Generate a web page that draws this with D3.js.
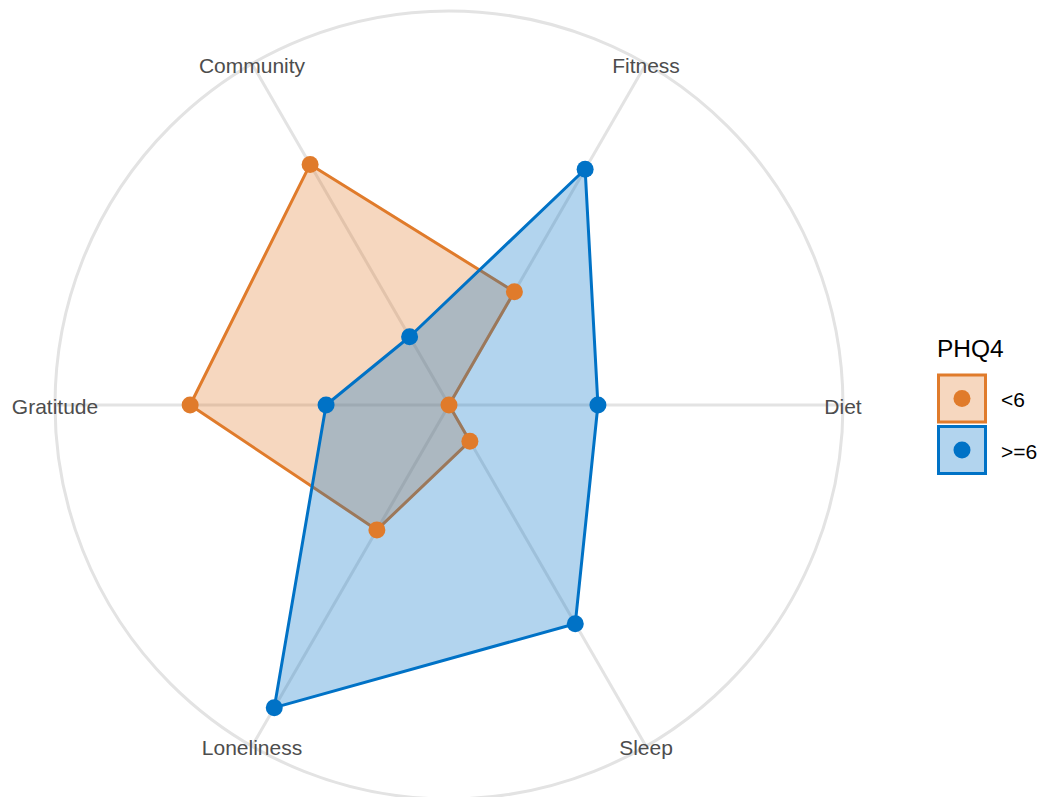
<!DOCTYPE html>
<html>
<head>
<meta charset="utf-8">
<script src="https://cdn.jsdelivr.net/npm/d3@7"></script>
<style>
  html, body { margin: 0; padding: 0; background: #fff; }
  svg { display: block; }
</style>
</head>
<body>
<svg id="chart" width="1040" height="797"></svg>
<script>
const categories = ["Diet", "Fitness", "Community", "Gratitude", "Loneliness", "Sleep"];
const seriesNames = ["<6", ">=6"];
const valuesLow = [0.000, 0.332, 0.705, 0.657, 0.366, 0.106];   // PHQ4 <6
const valuesHigh = [0.378, 0.691, 0.200, 0.312, 0.887, 0.641];  // PHQ4 >=6
const legendTitle = "PHQ4";
const colors = ["#E07B2B", "#0072C6"];

const series = [
  { name: seriesNames[0], values: valuesLow, color: colors[0] },
  { name: seriesNames[1], values: valuesHigh, color: colors[1] }
];

const svg = d3.select("#chart");
const cx = 449, cy = 405, R = 394;

const rScale = d3.scaleLinear().domain([0, 1]).range([0, R]);
const angle = d3.scaleLinear().domain([0, categories.length]).range([Math.PI / 2, Math.PI / 2 - 2 * Math.PI]);

const g = svg.append("g").attr("transform", `translate(${cx},${cy})`);

const gridColor = "#E3E3E3";
g.append("circle").attr("r", rScale(1)).attr("fill", "none")
  .attr("stroke", gridColor).attr("stroke-width", 3);

categories.forEach((c, i) => {
  const a = angle(i);
  g.append("line")
    .attr("x1", 0).attr("y1", 0)
    .attr("x2", rScale(1) * Math.sin(a))
    .attr("y2", -rScale(1) * Math.cos(a))
    .attr("stroke", gridColor).attr("stroke-width", 3);
});

const radial = d3.lineRadial()
  .angle((d, i) => angle(i))
  .radius(d => rScale(d))
  .curve(d3.curveLinearClosed);

series.forEach(s => {
  g.append("path")
    .attr("d", radial(s.values))
    .attr("fill", s.color).attr("fill-opacity", 0.3)
    .attr("stroke", s.color).attr("stroke-width", 3)
    .attr("stroke-linejoin", "round");
});

series.forEach(s => {
  g.selectAll(null).data(s.values).enter().append("circle")
    .attr("cx", (d, i) => rScale(d) * Math.sin(angle(i)))
    .attr("cy", (d, i) => -rScale(d) * Math.cos(angle(i)))
    .attr("r", 8.5)
    .attr("fill", s.color);
});

categories.forEach((c, i) => {
  const a = angle(i);
  g.append("text")
    .attr("x", rScale(1) * Math.sin(a))
    .attr("y", -rScale(1) * Math.cos(a) + 1.5)
    .attr("text-anchor", "middle")
    .attr("dy", "0.36em")
    .attr("font-family", "Liberation Sans, Arial, sans-serif")
    .attr("font-size", 21)
    .attr("fill", "#4D4D4D")
    .text(c);
});

const lg = svg.append("g").attr("transform", "translate(937,0)");
lg.append("text").attr("x", 0).attr("y", 357)
  .attr("font-family", "Liberation Sans, Arial, sans-serif")
  .attr("font-size", 24.5).attr("fill", "#000").text(legendTitle);

series.forEach((s, i) => {
  const y0 = 375 + i * 51.5;
  lg.append("rect").attr("x", 1.5).attr("y", y0).attr("width", 47).attr("height", 47)
    .attr("fill", s.color).attr("fill-opacity", 0.3)
    .attr("stroke", s.color).attr("stroke-width", 3);
  lg.append("circle").attr("cx", 25).attr("cy", y0 + 23.5).attr("r", 8.5).attr("fill", s.color);
  lg.append("text").attr("x", 64).attr("y", y0 + 24.5).attr("dy", "0.36em")
    .attr("font-family", "Liberation Sans, Arial, sans-serif")
    .attr("font-size", 21).attr("fill", "#000").text(s.name);
});
</script>
</body>
</html>
